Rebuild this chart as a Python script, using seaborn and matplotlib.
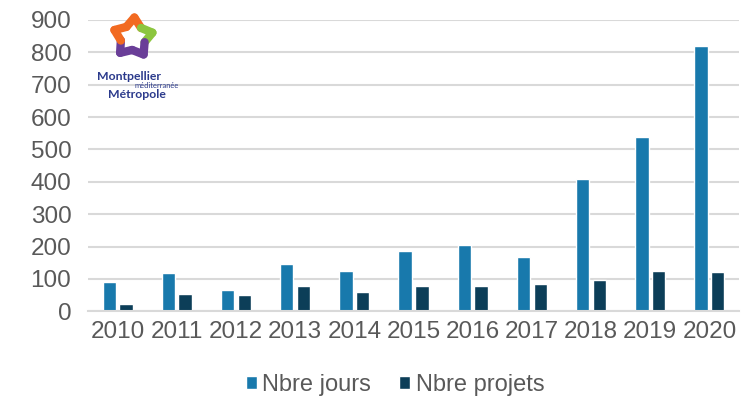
import numpy as np
import pandas as pd
import matplotlib
matplotlib.use("Agg")
import matplotlib.pyplot as plt
from matplotlib.lines import Line2D
import seaborn as sns

years = ["2010", "2011", "2012", "2013", "2014", "2015", "2016", "2017", "2018", "2019", "2020"]
nbre_jours = [89, 117, 67, 147, 123, 186, 204, 167, 408, 537, 821]
nbre_projets = [22, 53, 51, 77, 58, 78, 77, 85, 96, 124, 120]
series_names = ["Nbre jours", "Nbre projets"]
y_ticks = [0, 100, 200, 300, 400, 500, 600, 700, 800, 900]

df = pd.DataFrame({
    "Année": years * 2,
    "Valeur": nbre_jours + nbre_projets,
    "Série": [series_names[0]] * len(years) + [series_names[1]] * len(years),
})

sns.set_theme(style="white")
plt.rcParams["font.family"] = ["Liberation Sans", "DejaVu Sans"]

fig = plt.figure(figsize=(7.46, 3.96), dpi=100)
ax = fig.add_axes([0.118, 0.214, 0.8726, 0.7355])

palette = {series_names[0]: "#1879AC", series_names[1]: "#0C3E58"}
sns.barplot(data=df, x="Année", y="Valeur", hue="Série", palette=palette,
            width=0.565, gap=0.2, ax=ax, saturation=1, legend=True)

ax.set_ylim(0, 900)
ax.set_yticks(y_ticks)
ax.set_xlim(-0.5, len(years) - 0.5)
ax.yaxis.grid(True, color="#D9D9D9", linewidth=1.5)
ax.set_axisbelow(True)
for side in ["left", "right", "top"]:
    ax.spines[side].set_visible(False)
ax.spines["bottom"].set_color("#D9D9D9")
ax.spines["bottom"].set_linewidth(1.5)
ax.set_xlabel("")
ax.set_ylabel("")
ax.tick_params(axis="both", length=0, labelsize=17.5, colors="#595959")
ax.tick_params(axis="x", pad=7)
ax.tick_params(axis="y", pad=12)

handles, labels = ax.get_legend_handles_labels()
ax.get_legend().remove()
fig.legend(handles, labels, loc="center", bbox_to_anchor=(395 / 746, 1 - 385 / 396),
           ncol=2, frameon=False, fontsize=17, labelcolor="#595959",
           handlelength=0.47, handleheight=0.47, handletextpad=0.22,
           columnspacing=1.2, borderaxespad=0, borderpad=0)

# Metropole logo: coloured star outline with the name underneath
lax = fig.add_axes([0, 1 - 105 / 396, 200 / 746, 105 / 396])
lax.set_xlim(0, 200)
lax.set_ylim(105, 0)
lax.axis("off")
cx, cy, r_out, r_in, rot = 133, 37.5, 20, 12.5, -4
verts = []
for k in range(5):
    verts.append((90 + rot - 72 * k, r_out))
    verts.append((90 + rot - 36 - 72 * k, r_in))
pts = [(cx + r * np.cos(np.radians(a)), cy - r * np.sin(np.radians(a))) for a, r in verts]
pts.append(pts[0])
seg_colors = ["#F26A21", "#8CC63F", "#8CC63F", "#6A3E98", "#6A3E98",
              "#6A3E98", "#6A3E98", "#F26A21", "#F26A21", "#F26A21"]
for i in range(10):
    (x0, y0), (x1, y1) = pts[i], pts[i + 1]
    lax.add_line(Line2D([x0, x1], [y0, y1], color=seg_colors[i], linewidth=6,
                        solid_capstyle="round", solid_joinstyle="round"))
lax.text(128.5, 77, "Montpellier", fontsize=8.8, fontweight="bold", color="#2B3A8C",
         ha="center", va="center", family="Lato")
lax.text(157, 85.5, "méditerranée", fontsize=5.4, color="#2B3A8C",
         ha="center", va="center", family="Lato")
lax.text(136.5, 94, "Métropole", fontsize=8.8, fontweight="bold", color="#2B3A8C",
         ha="center", va="center", family="Lato")

fig.savefig("out.png", dpi=100)
